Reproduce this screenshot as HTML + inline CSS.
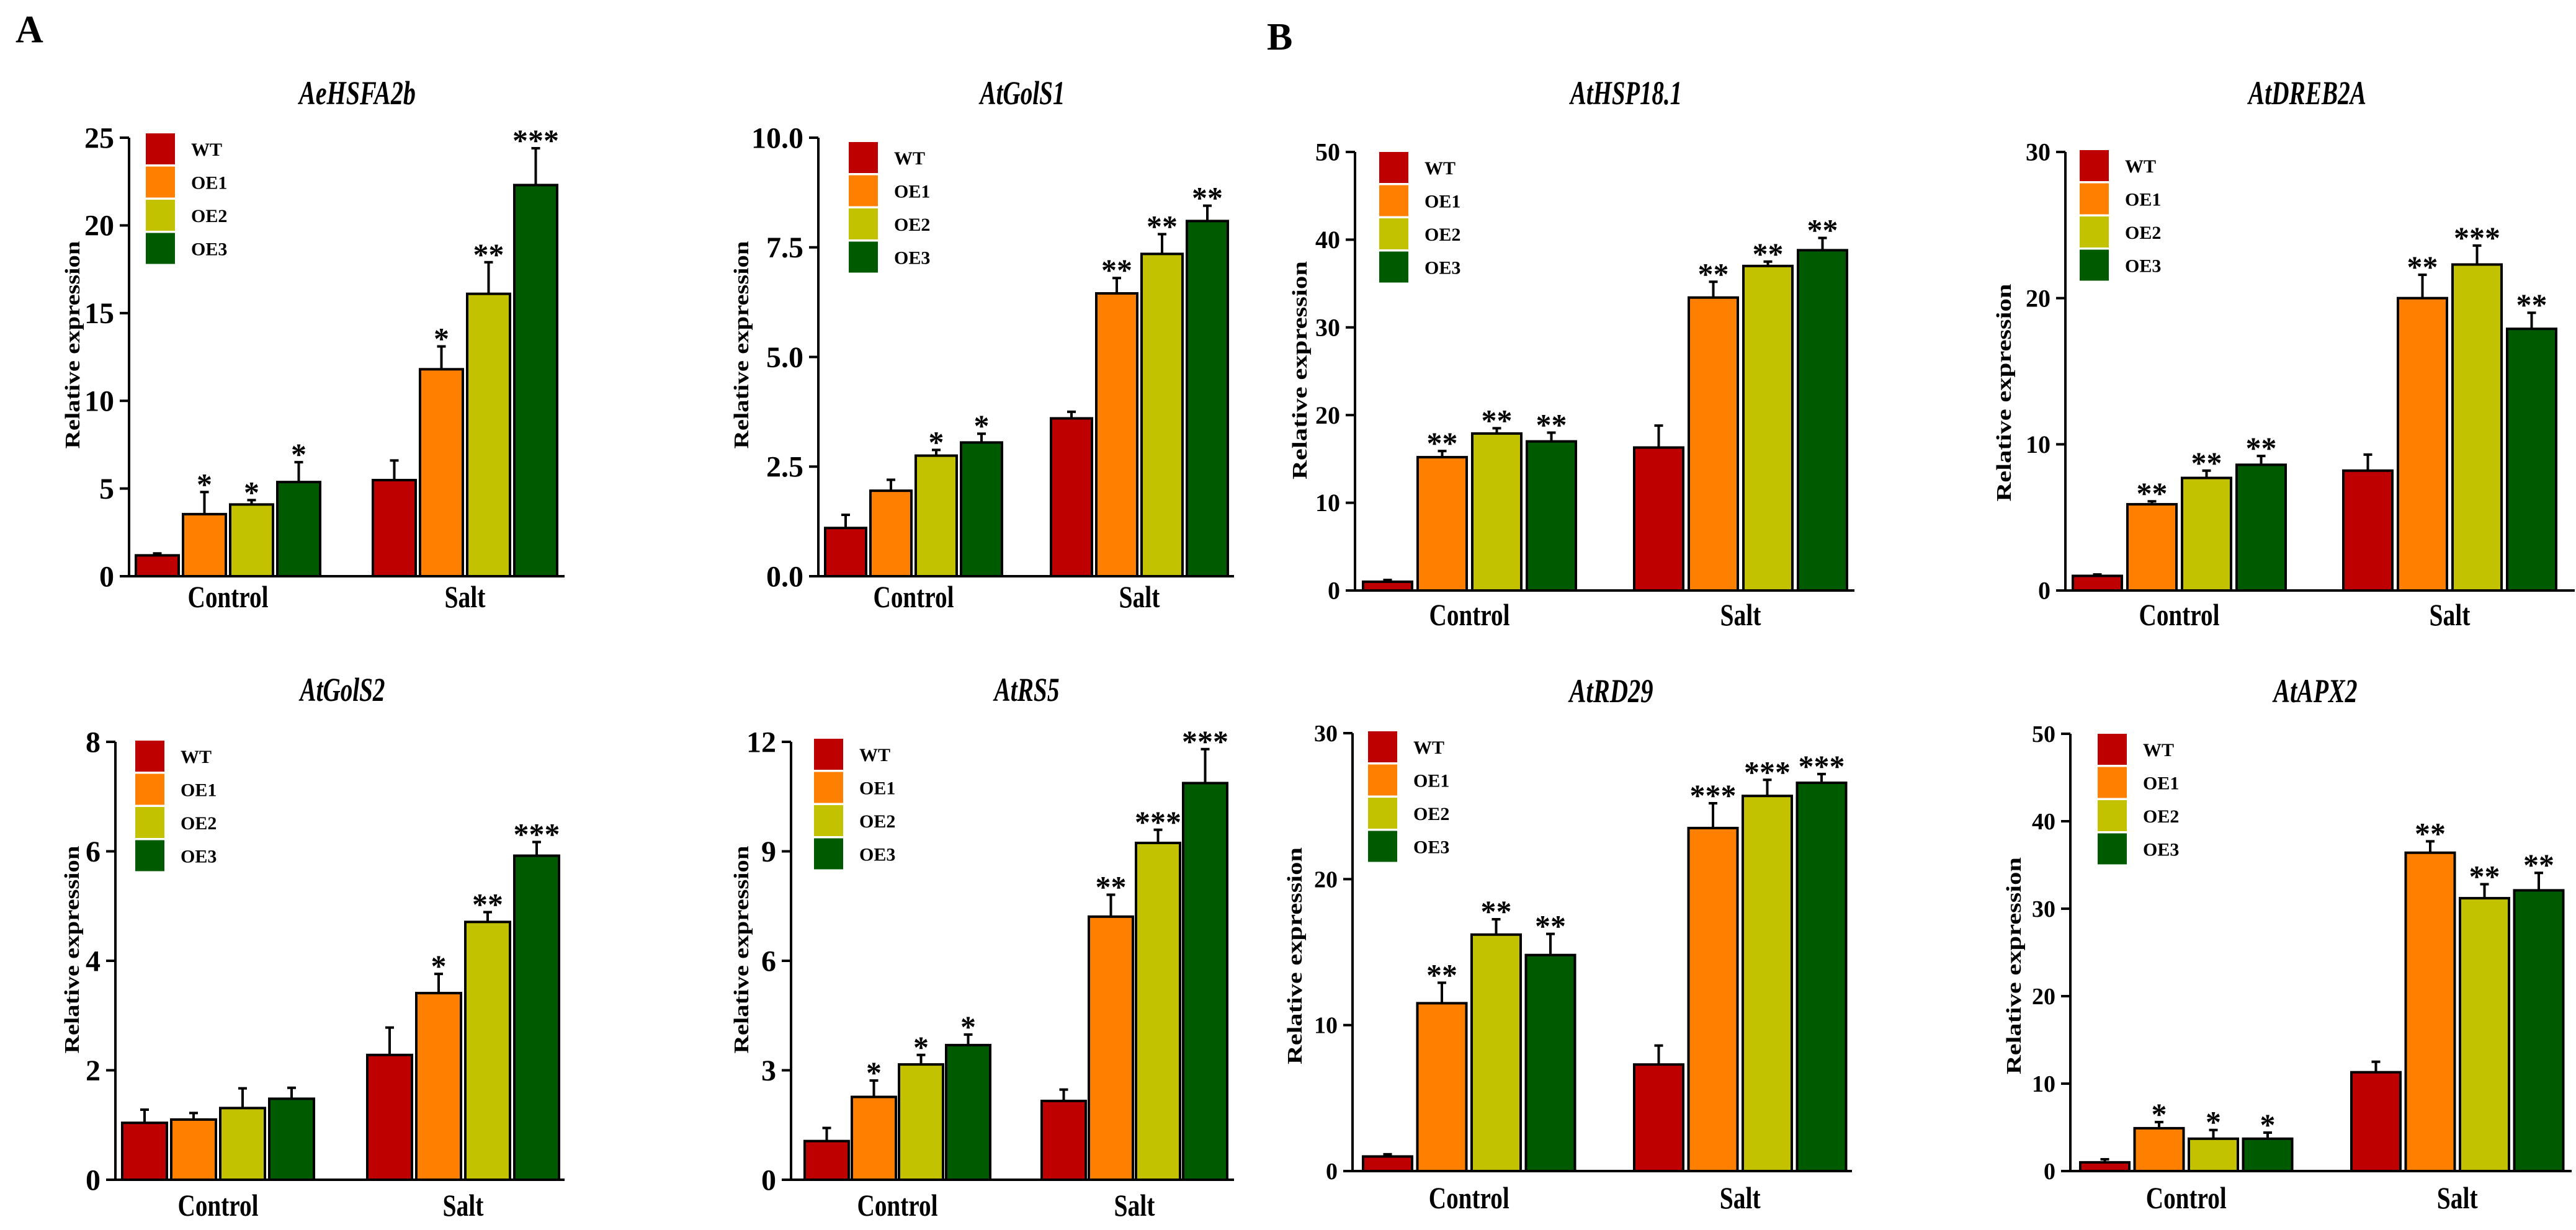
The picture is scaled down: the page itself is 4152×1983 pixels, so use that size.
<!DOCTYPE html>
<html><head><meta charset="utf-8"><style>
html,body{margin:0;padding:0;background:#fff;}
svg{display:block;}
text{font-family:"Liberation Serif",serif;font-weight:bold;fill:#000;}
</style></head><body>
<svg id="fig" width="4152" height="1983" viewBox="0 0 4152 1983" xmlns="http://www.w3.org/2000/svg">
<text x="25" y="68" font-size="62">A</text>
<text x="2042" y="80" font-size="62">B</text>
</svg>
<script>
const seriesNames = ["WT","OE1","OE2","OE3"];
const seriesColors = ["#bf0000","#ff8000","#c2c200","#005a00"];
const categories = ["Control","Salt"];
const panelTitles = ["AeHSFA2b","AtGolS1","AtHSP18.1","AtDREB2A","AtGolS2","AtRS5","AtRD29","AtAPX2"];
const yMax = [25,10,50,30,8,12,30,50];
const yTickValues = [[0,5,10,15,20,25],[0,2.5,5,7.5,10],[0,10,20,30,40,50],[0,10,20,30],[0,2,4,6,8],[0,3,6,9,12],[0,10,20,30],[0,10,20,30,40,50]];
const yTickLabels = [["0","5","10","15","20","25"],["0.0","2.5","5.0","7.5","10.0"],["0","10","20","30","40","50"],["0","10","20","30"],["0","2","4","6","8"],["0","3","6","9","12"],["0","10","20","30"],["0","10","20","30","40","50"]];
const controlMeans = [[1.19,3.54,4.09,5.37],[1.1,1.95,2.75,3.05],[1.0,15.2,17.9,17.0],[1.0,5.9,7.7,8.6],[1.04,1.1,1.31,1.48],[1.06,2.27,3.16,3.69],[1.0,11.5,16.2,14.8],[1.0,4.9,3.7,3.7]];
const controlErrors = [[0.11,1.26,0.25,1.13],[0.3,0.25,0.13,0.2],[0.2,0.7,0.6,1.0],[0.1,0.2,0.5,0.6],[0.24,0.12,0.36,0.2],[0.36,0.45,0.26,0.29],[0.15,1.4,1.05,1.45],[0.35,0.7,1.0,0.7]];
const saltMeans = [[5.48,11.8,16.1,22.3],[3.6,6.45,7.35,8.1],[16.3,33.4,37.0,38.8],[8.2,20.0,22.3,17.9],[2.28,3.41,4.71,5.92],[2.16,7.21,9.23,10.87],[7.3,23.5,25.7,26.6],[11.3,36.4,31.2,32.1]];
const saltErrors = [[1.12,1.3,1.8,2.1],[0.15,0.35,0.45,0.35],[2.5,1.8,0.5,1.4],[1.1,1.6,1.3,1.1],[0.5,0.35,0.18,0.25],[0.31,0.6,0.36,0.93],[1.3,1.7,1.1,0.6],[1.2,1.3,1.6,2.0]];
const controlStars = [["","*","*","*"],["","","*","*"],["","**","**","**"],["","**","**","**"],["","","",""],["","*","*","*"],["","**","**","**"],["","*","*","*"]];
const saltStars = [["","*","**","***"],["","**","**","**"],["","**","**","**"],["","**","***","**"],["","*","**","***"],["","**","***","***"],["","***","***","***"],["","**","**","**"]];

const layouts = [
 {ax:208,axEnd:910,yTop:222,y0:929,b1:219,g2:601,bw:69,step:76,legX:235,legY:215,tX:576,tY:168,tW:188,ylX:116,ylY:556,ylW:335,fs:48,catOff:50},
 {ax:1319,axEnd:1989,yTop:222,y0:929,b1:1330,g2:1694,bw:66,step:73,legX:1368,legY:229,tX:1648,tY:168,tW:137,ylX:1194,ylY:556,ylW:335,fs:48,catOff:50},
 {ax:2184,axEnd:2989,yTop:245,y0:952,b1:2197,g2:2634,bw:79,step:88,legX:2223,legY:245,tX:2621,tY:168,tW:180,ylX:2094,ylY:597,ylW:352,fs:40,catOff:56},
 {ax:3329,axEnd:4150,yTop:245,y0:952,b1:3341,g2:3777,bw:79,step:88,legX:3352,legY:242,tX:3719,tY:168,tW:190,ylX:3229,ylY:633,ylW:351,fs:40,catOff:56},
 {ax:186,axEnd:910,yTop:1196,y0:1902,b1:197,g2:592,bw:72,step:79,legX:218,legY:1194,tX:552,tY:1130,tW:137,ylX:115,ylY:1531,ylW:335,fs:48,catOff:58},
 {ax:1275,axEnd:1989,yTop:1196,y0:1902,b1:1297,g2:1679,bw:71,step:76,legX:1312,legY:1191,tX:1655,tY:1130,tW:105,ylX:1194,ylY:1531,ylW:335,fs:48,catOff:58},
 {ax:2180,axEnd:2985,yTop:1182,y0:1888,b1:2197,g2:2634,bw:79,step:87.5,legX:2205,legY:1179,tX:2597,tY:1132,tW:135,ylX:2086,ylY:1541,ylW:350,fs:38,catOff:60},
 {ax:3337,axEnd:4145,yTop:1183,y0:1888,b1:3353,g2:3790,bw:79,step:87.5,legX:3381,legY:1183,tX:3732,tY:1132,tW:135,ylX:3245,ylY:1557,ylW:350,fs:38,catOff:60}
];
const NS = "http://www.w3.org/2000/svg";
const svg = document.getElementById("fig");
function mk(tag, attrs, parent){const e=document.createElementNS(NS,tag);for(const k in attrs)e.setAttribute(k,attrs[k]);(parent||svg).appendChild(e);return e;}

layouts.forEach((L,p)=>{
  const g = mk("g",{});
  
  
  const yS = v => L.y0 - v/yMax[p]*(L.y0-L.yTop);
  const xBar = (c,s) => (c===0?L.b1:L.g2) + s*L.step;
  // title
  const t = mk("text",{x:L.tX,y:L.tY,"font-size":54,"font-style":"italic","text-anchor":"middle",textLength:L.tW,lengthAdjust:"spacingAndGlyphs"},g);
  t.textContent = panelTitles[p];
  
  
  // y label
  const yl = mk("text",{x:0,y:0,"font-size":34,"text-anchor":"middle",textLength:L.ylW,lengthAdjust:"spacingAndGlyphs",transform:`translate(${L.ylX+12},${L.ylY}) rotate(-90)`},g);
  yl.textContent = "Relative expression";
  
  
  // bars
  [controlMeans[p], saltMeans[p]].forEach((means,c)=>{
    const errs = c===0?controlErrors[p]:saltErrors[p];
    const stars = c===0?controlStars[p]:saltStars[p];
    means.forEach((v,s)=>{
      const x = xBar(c,s), cx = x + L.bw/2, top = yS(v), et = yS(v+errs[s]);
      const eb = mk("path",{d:`M${cx} ${top} V${et} M${cx-7} ${et} H${cx+7}`,stroke:"#000","stroke-width":4,fill:"none"},g);
      
      
      const r = mk("rect",{x:x,y:top,width:L.bw,height:L.y0-top,fill:seriesColors[s],stroke:"#000","stroke-width":4},g);
      
      
      if(stars[s]){
        const st = mk("text",{x:cx,y:et+4,"font-size":50,"font-weight":"normal","text-anchor":"middle"},g);
        st.textContent = stars[s];
        
        
      }
    });
    const gx = xBar(c,0) + (4*L.step - (L.step-L.bw))/2;
    const cl = mk("text",{x:gx,y:L.y0+L.catOff,"font-size":50,"text-anchor":"middle",textLength:c===0?130:66,lengthAdjust:"spacingAndGlyphs"},g);
    cl.textContent = categories[c];
    
    
  });
  // axes
  const axes = mk("path",{d:`M${L.ax} ${L.yTop} V${L.y0} M${L.ax-14} ${L.y0} H${L.axEnd}`,stroke:"#000","stroke-width":4,fill:"none"},g);
  
  
  yTickValues[p].forEach((v,i)=>{
    const y = yS(v);
    const tk = mk("line",{x1:L.ax-15,x2:L.ax,y1:y,y2:y,stroke:"#000","stroke-width":4},g);
    
    
    const tl = mk("text",{x:L.ax-24,y:y+L.fs*0.34,"font-size":L.fs,"text-anchor":"end"},g);
    tl.textContent = yTickLabels[p][i];
    
    
  });
  // legend
  seriesNames.forEach((n,s)=>{
    const by = L.legY + s*53.5;
    const lb = mk("rect",{x:L.legX,y:by,width:47,height:50,fill:seriesColors[s]},g);
    
    
    const lt = mk("text",{x:L.legX+73,y:by+36,"font-size":30},g);
    lt.textContent = n;
    
    
  });
});
</script>
</body></html>
